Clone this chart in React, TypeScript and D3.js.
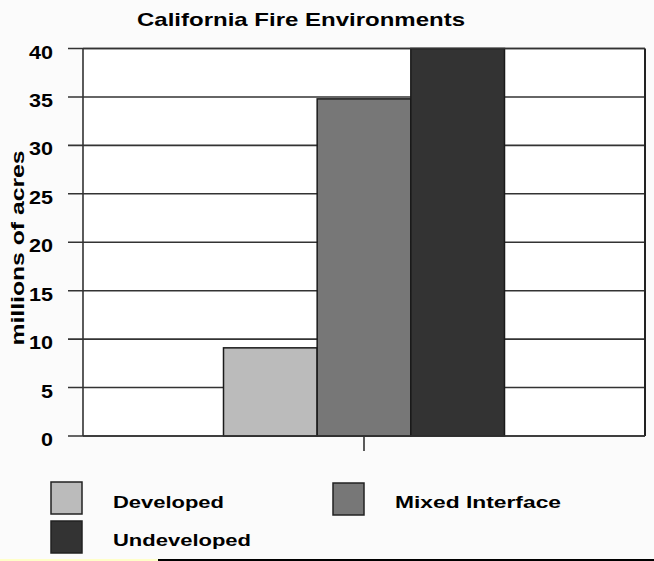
import React from "react";
import * as d3 from "d3";

const categories = [""];
const seriesNames = ["Developed", "Mixed Interface", "Undeveloped"];
const seriesValues = [9.1, 34.8, 40];
const seriesColors = ["#bbbbbb", "#777777", "#333333"];
const yTicks = [0, 5, 10, 15, 20, 25, 30, 35, 40];
const titleText = "California Fire Environments";
const yLabelText = "millions of acres";

const W = 654;
const H = 561;
const FONT = "'Liberation Sans', Arial, sans-serif";

export default function App() {
  const left = 83, right = 645, top = 48.5, bottom = 436;
  const y = d3.scaleLinear().domain([0, 40]).range([bottom, top]);
  const x0 = d3.scaleBand().domain(categories).range([left, right]).paddingOuter(0.5).paddingInner(0);
  const x1 = d3.scaleBand().domain(seriesNames).range([0, x0.bandwidth()]);
  const catCenter = (x0("") as number) + x0.bandwidth() / 2;

  const legendItems = [
    { name: seriesNames[0], sx: 51, sy: 482, tx: 113, ty: 507.5, tw: 111 },
    { name: seriesNames[1], sx: 333, sy: 483, tx: 395, ty: 508, tw: 166 },
    { name: seriesNames[2], sx: 51, sy: 521, tx: 113, ty: 545.5, tw: 138 },
  ];

  return (
    <svg width={W} height={H} style={{ position: "absolute", left: 0, top: 0, display: "block" }}>
      <rect x={0} y={0} width={W} height={H} fill="#fbfbfb" />
      <rect x={left} y={top} width={right - left} height={bottom - top} fill="#ffffff" />
      {/* title */}
      <text x={301} y={26} textAnchor="middle" fontFamily={FONT} fontWeight="bold" fontSize={19}
        textLength={328} lengthAdjust="spacingAndGlyphs" fill="#000">{titleText}</text>
      {/* gridlines + ticks */}
      {yTicks.map((t) => (
        <g key={t}>
          <line x1={68} x2={right} y1={y(t)} y2={y(t)} stroke="#333" strokeWidth={1.6} />
          <text x={53} y={y(t) + 10} textAnchor="end" fontFamily={FONT} fontWeight="bold" fontSize={19}
            textLength={t >= 10 ? 24 : 12} lengthAdjust="spacingAndGlyphs" fill="#000">{t}</text>
        </g>
      ))}
      {/* y label */}
      <text transform={`translate(24,248) rotate(-90)`} textAnchor="middle" fontFamily={FONT} fontWeight="bold"
        fontSize={18} textLength={195} lengthAdjust="spacingAndGlyphs" fill="#000">{yLabelText}</text>
      {/* bars */}
      {categories.map((c) => (
        <g key={c} transform={`translate(${x0(c)},0)`}>
          {seriesNames.map((s, i) => (
            <rect key={s} x={x1(s) as number} y={y(seriesValues[i])} width={x1.bandwidth()}
              height={bottom - y(seriesValues[i])} fill={seriesColors[i]} stroke="#1a1a1a" strokeWidth={1.5} />
          ))}
        </g>
      ))}
      {/* frame */}
      <line x1={left} x2={left} y1={top} y2={bottom} stroke="#333" strokeWidth={1.6} />
      <line x1={right} x2={right} y1={top} y2={bottom} stroke="#222" strokeWidth={2} />
      <line x1={left} x2={right} y1={bottom} y2={bottom} stroke="#333" strokeWidth={1.6} />
      <line x1={left} x2={right} y1={top} y2={top} stroke="#333" strokeWidth={1.6} />
      {/* category tick */}
      <line x1={catCenter} x2={catCenter} y1={bottom} y2={451} stroke="#333" strokeWidth={1.6} />
      {/* legend */}
      {legendItems.map((l, i) => (
        <g key={l.name}>
          <rect x={l.sx} y={l.sy} width={31} height={32} fill={seriesColors[seriesNames.indexOf(l.name)]}
            stroke="#222" strokeWidth={1.5} />
          <text x={l.tx} y={l.ty} fontFamily={FONT} fontWeight="bold" fontSize={17} textLength={l.tw}
            lengthAdjust="spacingAndGlyphs" fill="#000">{l.name}</text>
        </g>
      ))}
      {/* bottom strip */}
      <rect x={0} y={559} width={158} height={2} fill="#ffffc8" />
      <rect x={158} y={559} width={W - 158} height={2} fill="#000" />
    </svg>
  );
}
